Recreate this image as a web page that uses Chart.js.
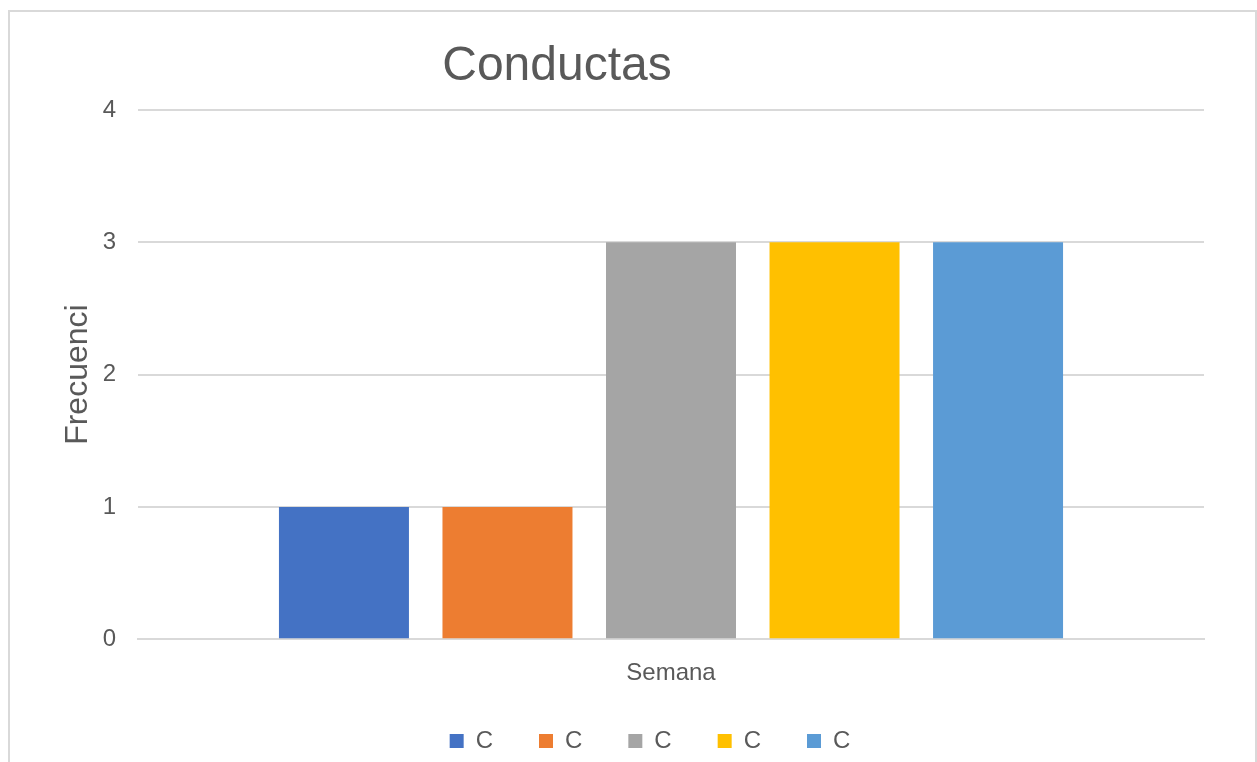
<!DOCTYPE html>
<html>
<head>
<meta charset="utf-8">
<script src="https://cdn.jsdelivr.net/npm/chart.js@4/dist/chart.umd.min.js"></script>
<style>
  html, body { margin: 0; padding: 0; background: #fff; overflow: hidden; }
  #wrap { position: relative; width: 1257px; height: 762px; }
  #frame {
    position: absolute; left: 8px; top: 10px; width: 1245px; height: 800px;
    border: 2px solid #d9d9d9; pointer-events: none;
  }
  canvas { position: absolute; left: 0; top: 0; }
</style>
</head>
<body>
<div id="wrap">
  <canvas id="chart" width="1257" height="762"></canvas>
  <div id="frame"></div>
</div>
<script>
const categories = ['Semana'];
const seriesNames = ['C', 'C', 'C', 'C', 'C'];
const seriesValues = [1, 1, 3, 3, 3];
const seriesColors = ['#4472C4', '#ED7D31', '#A5A5A5', '#FFC000', '#5B9BD5'];
const yTicks = [0, 1, 2, 3, 4];

const FONT = '"Liberation Sans", Arial, sans-serif';
const textColor = '#595959';
const gridColor = '#d9d9d9';

// excel-ish title sits off-centre, so draw it by hand
const titlePlugin = {
  id: 'offTitle',
  afterDraw(chart) {
    const ctx = chart.ctx;
    ctx.save();
    ctx.font = '48px ' + FONT;
    ctx.fillStyle = textColor;
    ctx.textAlign = 'center';
    ctx.textBaseline = 'alphabetic';
    ctx.fillText('Conductas', 557, 80);
    ctx.restore();
  }
};

const datasets = seriesValues.map((v, i) => ({
  label: seriesNames[i],
  data: [v],
  backgroundColor: seriesColors[i],
  borderWidth: 0,
  categoryPercentage: 0.767,
  barPercentage: 0.795
}));

new Chart(document.getElementById('chart'), {
  type: 'bar',
  data: { labels: categories, datasets: datasets },
  plugins: [titlePlugin],
  options: {
    responsive: false,
    devicePixelRatio: 1,
    animation: false,
    layout: { padding: { left: 96, right: 53, top: 110, bottom: -1 } },
    plugins: {
      title: { display: false },
      tooltip: { enabled: false },
      legend: {
        position: 'bottom',
        labels: {
          boxWidth: 14,
          boxHeight: 14,
          padding: 46,
          color: textColor,
          font: { family: FONT, size: 24 }
        }
      }
    },
    scales: {
      x: {
        afterFit(scale) { scale.height = scale.height - 25; },
        grid: { display: false, drawTicks: false },
        border: { display: true, color: gridColor, width: 2 },
        ticks: { color: textColor, padding: 20, font: { family: FONT, size: 24 } }
      },
      y: {
        min: 0,
        max: 4,
        afterFit(scale) { scale.width = 42; },
        afterBuildTicks(scale) { scale.ticks = yTicks.map(v => ({ value: v })); },
        grid: { color: gridColor, lineWidth: 2, drawTicks: false },
        border: { display: false },
        ticks: { color: textColor, padding: 22, font: { family: FONT, size: 24 } },
        title: {
          display: true,
          text: 'Frecuenci',
          color: textColor,
          font: { family: FONT, size: 32 },
          padding: { top: -37, bottom: 0 }
        }
      }
    }
  }
});
</script>
</body>
</html>
